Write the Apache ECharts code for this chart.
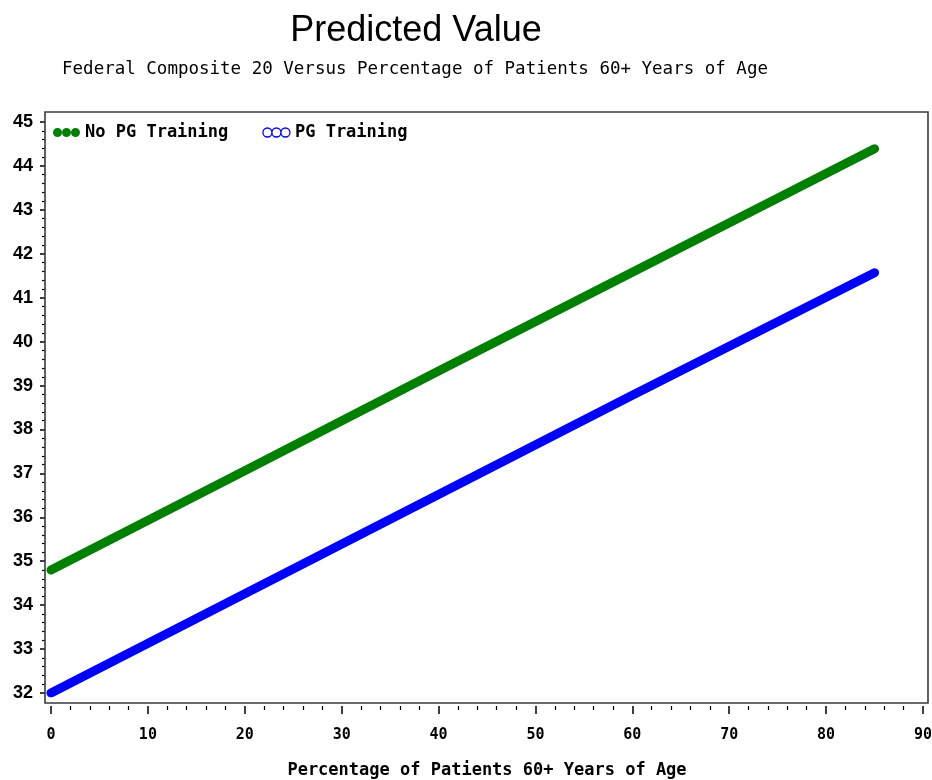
<!DOCTYPE html>
<html>
<head>
<meta charset="utf-8">
<title>Predicted Value</title>
<script src="https://cdn.jsdelivr.net/npm/echarts@6/dist/echarts.min.js"></script>
<style>
  html, body { margin: 0; padding: 0; background: #ffffff; overflow: hidden; }
  #chart { width: 932px; height: 780px; }
</style>
</head>
<body>
<div id="chart"></div>
<script>
// Predicted Federal Composite 20 score against share of patients aged 60+
const percentAged60 = [0, 20, 40, 60, 85];
const noPgTraining = [34.80, 37.06, 39.33, 41.58, 44.39];
const pgTraining = [32.00, 34.26, 36.52, 38.78, 41.57];

const seriesNames = ['No PG Training', 'PG Training'];
const xTicks = { min: 0, max: 90, step: 10 };
const yTicks = { min: 32, max: 45, step: 1 };

const toPairs = (xs, ys) => xs.map((x, i) => [x, ys[i]]);

// three touching circles used as legend marks
const triCircle = 'path://M0,4.5a4.5,4.5 0 1,0 9,0a4.5,4.5 0 1,0 -9,0' +
  'M9,4.5a4.5,4.5 0 1,0 9,0a4.5,4.5 0 1,0 -9,0' +
  'M18,4.5a4.5,4.5 0 1,0 9,0a4.5,4.5 0 1,0 -9,0';

const monoFont = '"DejaVu Sans Mono", "Liberation Mono", monospace';
const sansFont = '"Liberation Sans", Arial, sans-serif';

// the value axis sits on the frame, the category axis hangs just below it,
// and the plotted lines live in an inner area inset from the frame
const frame = { left: 45, right: 4, top: 112, bottom: 77 };
const plot = { left: 51, right: 9, top: 122, bottom: 87 };
const xAxisBottom = 74;

const hiddenAxis = (extra) => Object.assign({
  type: 'value', show: false, splitLine: { show: false }
}, extra);

const chart = echarts.init(document.getElementById('chart'), null, { renderer: 'canvas' });

chart.setOption({
  backgroundColor: '#ffffff',
  animation: false,
  title: [
    {
      text: 'Predicted Value',
      left: 411, top: 8, textAlign: 'center',
      textStyle: { fontFamily: sansFont, fontSize: 36, fontWeight: 'normal', color: '#000' }
    },
    {
      text: 'Federal Composite 20 Versus Percentage of Patients 60+ Years of Age',
      left: 410, top: 55, textAlign: 'center',
      textStyle: { fontFamily: monoFont, fontSize: 17.5, fontWeight: 'normal', color: '#000' }
    }
  ],
  legend: {
    left: 48, top: 119,
    orient: 'horizontal',
    itemWidth: 27, itemHeight: 9,
    itemGap: 34,
    textStyle: { fontFamily: monoFont, fontSize: 17, fontWeight: 'bold', color: '#000' },
    data: [
      { name: seriesNames[0], icon: triCircle, itemStyle: { color: '#008000', borderWidth: 0 } },
      { name: seriesNames[1], icon: triCircle, itemStyle: { color: '#ffffff', borderColor: '#0000ff', borderWidth: 1.3 } }
    ]
  },
  grid: [
    { left: frame.left, right: plot.right, top: plot.top, bottom: plot.bottom, outerBoundsMode: 'none' },
    { left: plot.left, right: plot.right, top: plot.top, bottom: plot.bottom, outerBoundsMode: 'none' },
    { left: plot.left, right: plot.right, top: plot.top, bottom: xAxisBottom, outerBoundsMode: 'none' }
  ],
  xAxis: [
    hiddenAxis({ gridIndex: 0, min: xTicks.min, max: xTicks.max }),
    hiddenAxis({ gridIndex: 1, min: xTicks.min, max: xTicks.max }),
    {
      type: 'value', gridIndex: 2,
      min: xTicks.min, max: xTicks.max, interval: xTicks.step,
      name: 'Percentage of Patients 60+ Years of Age',
      nameLocation: 'middle',
      nameGap: 56,
      nameTextStyle: { fontFamily: monoFont, fontSize: 17, fontWeight: 'bold', color: '#000' },
      axisLine: { show: false },
      axisTick: { show: true, inside: false, length: 8, lineStyle: { color: '#000', width: 1.5 } },
      minorTick: { show: true, splitNumber: 5, length: 4, lineStyle: { color: '#000', width: 1.2 } },
      axisLabel: { margin: 22, fontFamily: monoFont, fontSize: 15, fontWeight: 'bold', color: '#000' },
      splitLine: { show: false }
    }
  ],
  yAxis: [
    {
      type: 'value', gridIndex: 0,
      min: yTicks.min, max: yTicks.max, interval: yTicks.step,
      axisLine: { show: false },
      axisTick: { show: true, inside: false, length: 5, lineStyle: { color: '#000', width: 1.5 } },
      minorTick: { show: true, splitNumber: 5, length: 3, lineStyle: { color: '#000', width: 1.2 } },
      axisLabel: { margin: 12, fontFamily: sansFont, fontSize: 18, fontWeight: 'bold', color: '#000' },
      splitLine: { show: false }
    },
    hiddenAxis({ gridIndex: 1, min: yTicks.min, max: yTicks.max }),
    hiddenAxis({ gridIndex: 2, min: yTicks.min, max: yTicks.max })
  ],
  graphic: [
    {
      type: 'rect', silent: true, z: 10,
      shape: { x: frame.left, y: frame.top, width: 932 - frame.left - frame.right, height: 780 - frame.top - frame.bottom },
      style: { fill: 'none', stroke: '#3a3a3a', lineWidth: 1.6 }
    }
  ],
  series: [
    {
      name: seriesNames[0], type: 'line',
      xAxisIndex: 1, yAxisIndex: 1,
      data: toPairs(percentAged60, noPgTraining),
      symbol: 'none',
      lineStyle: { color: '#008000', width: 9, cap: 'round', join: 'round' },
      itemStyle: { color: '#008000' }
    },
    {
      name: seriesNames[1], type: 'line',
      xAxisIndex: 1, yAxisIndex: 1,
      data: toPairs(percentAged60, pgTraining),
      symbol: 'none',
      lineStyle: { color: '#0000ff', width: 9, cap: 'round', join: 'round' },
      itemStyle: { color: '#0000ff' }
    }
  ]
});
</script>
</body>
</html>
